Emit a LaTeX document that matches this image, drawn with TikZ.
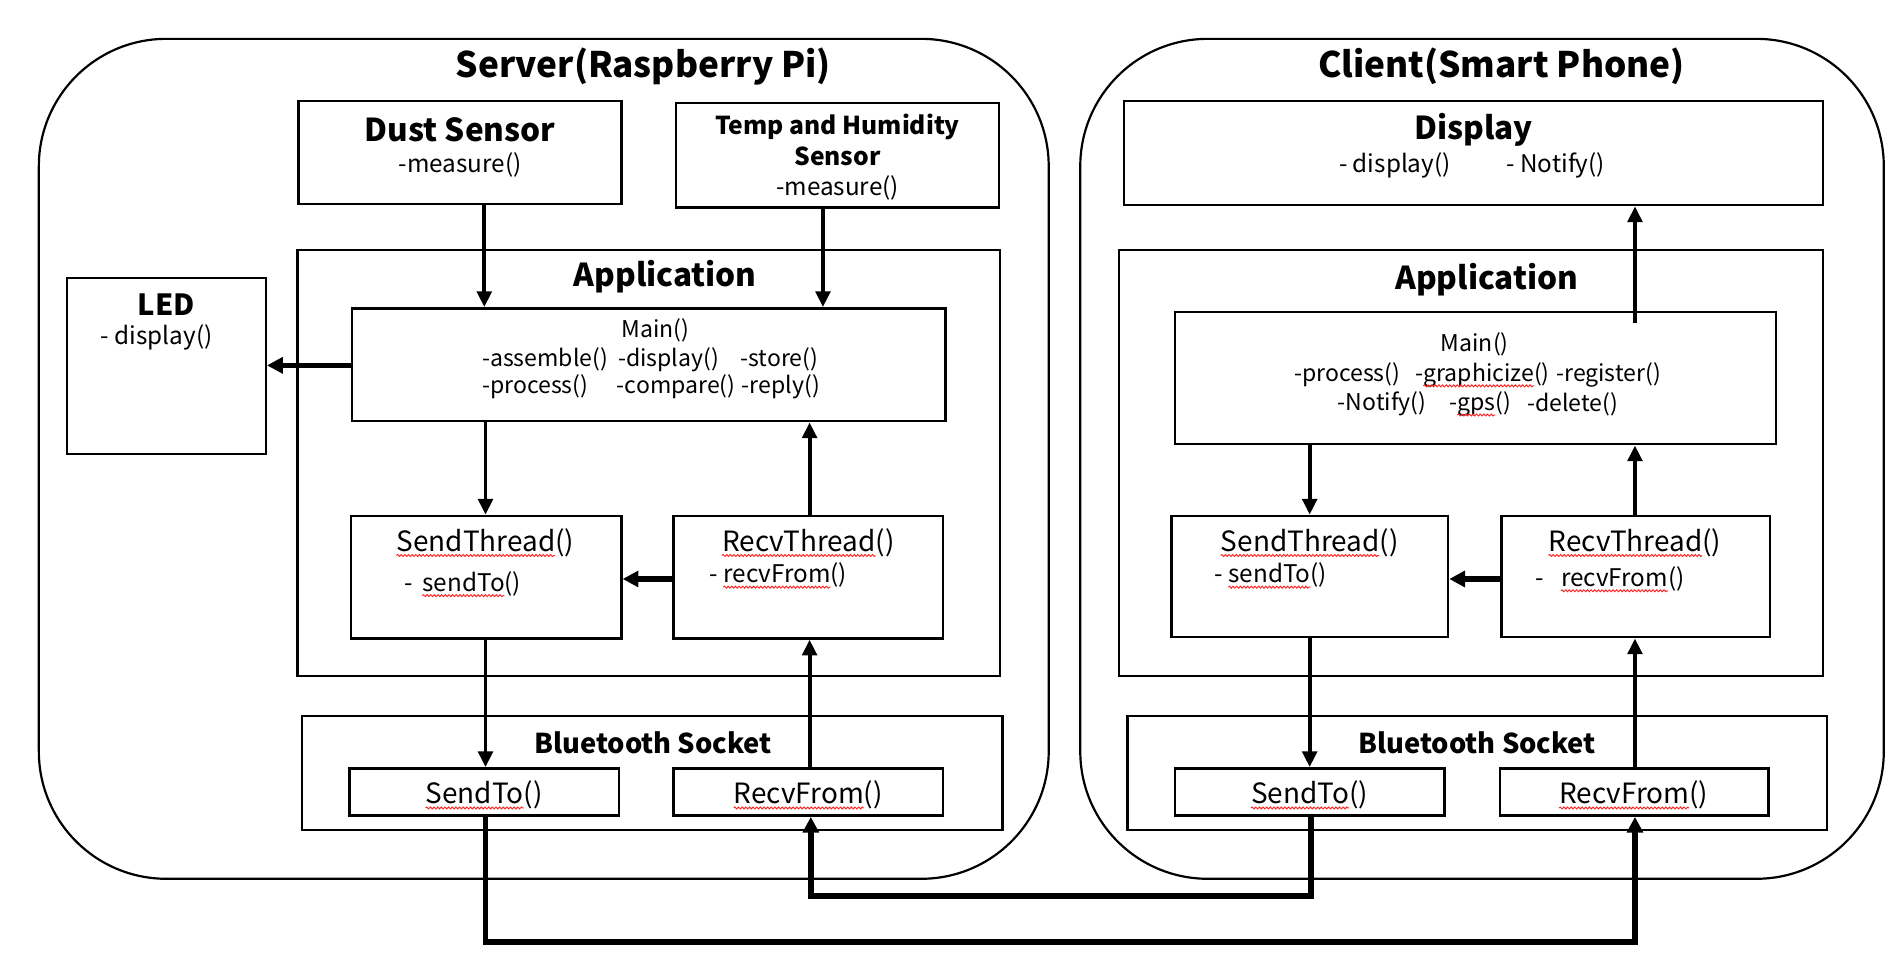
\documentclass[tikz,border=0pt]{standalone}
\usepackage{fontspec}
\setmainfont{Noto Sans CJK KR}
\usetikzlibrary{arrows.meta,decorations.pathmorphing}
\newcommand\fbig{\fontsize{23}{27}\selectfont}
\newcommand\ftxt{\fontsize{20}{24}\selectfont}
\newcommand\fm{\fontsize{19}{22}\selectfont}
% #1 name, #2 font, #3 prefix, #4 wavy word, #5 suffix, #6 position, #7 anchor
\newcommand\wvline[7]{%
  \node[inner sep=0pt,font=#2,anchor=#7] (#1) at (#6) {#3#4#5};
  \pgfinterruptpicture\global\setbox1=\hbox{#2#3}\global\setbox2=\hbox{#2#3#4}\endpgfinterruptpicture
  \draw[wave] ([xshift=\wd1,yshift=-3.5pt]#1.base west) -- ([xshift=\wd2,yshift=-3.5pt]#1.base west);}
\newcommand\mybox[6][]{%
  \node[boxst,#1,minimum width={(#5-#3)*1pt},minimum height={(#6-#4)*1pt}] (#2) at ({(#3+#5)/2},{(#4+#6)/2}) {};}
\tikzset{
  boxst/.style={draw,line width=2pt,inner sep=0pt,rectangle},
  outer/.style={draw,line width=1.8pt,rounded corners=105pt,inner sep=0pt},
  arr/.style={line width=3.2pt,-{Triangle[length=13pt,width=12pt]}},
  tarr/.style={line width=4.5pt,-{Triangle[length=13pt,width=13pt]}},
  wave/.style={draw=red!85!white,line width=0.8pt,decorate,decoration={snake,amplitude=0.8pt,segment length=3pt}},
  ttl/.style={font=\fontsize{29}{32}\selectfont\bfseries,inner sep=0pt},
  hd/.style={font=\fontsize{26}{30}\selectfont\bfseries,inner sep=0pt},
  sub/.style={font=\fontsize{20.3}{24}\selectfont\bfseries,inner sep=0pt},
  bts/.style={font=\fontsize{22.5}{26}\selectfont\bfseries,inner sep=0pt},
  txt/.style={font=\ftxt,inner sep=0pt},
  mtxt/.style={font=\fm,inner sep=0pt},
  big/.style={font=\fbig,inner sep=0pt},
}
\begin{document}
\begin{tikzpicture}[x=1pt,y=-1pt]
\useasboundingbox (0,0) rectangle (1567,804);
% outer containers
\mybox[outer]{server}{32}{32}{864}{724}
\mybox[outer]{client}{890}{32}{1552}{724}
\node[ttl] (servert) at (530,55) {Server(Raspberry Pi)};
\node[ttl] (clientt) at (1237,55) {Client(Smart Phone)};
% ---------- server ----------
\mybox{dust}{246}{83}{512}{168}
\node[hd] (dustt) at (379,107) {Dust Sensor};
\node[txt] (dustm) at (379,136) {-measure()};
\mybox{temp}{557}{85}{823}{171}
\node[sub] (tempt1) at (690,105) {Temp and Humidity};
\node[sub] (tempt2) at (690,129) {Sensor};
\node[txt] (tempm) at (690,155) {-measure()};
\mybox{appS}{245}{206}{824}{557}
\node[hd] (appSt) at (548,228) {Application};
\mybox{mainS}{290}{254}{779}{347}
\node[mtxt] (mainSt) at (540,272) {Main()};
\node[mtxt,anchor=west] (s11) at (397,296) {-assemble()};
\node[mtxt,anchor=west] (s12) at (509,296) {-display()};
\node[mtxt,anchor=west] (s13) at (610,296) {-store()};
\node[mtxt,anchor=west] (s21) at (397,319) {-process()};
\node[mtxt,anchor=west] (s22) at (508,319) {-compare()};
\node[mtxt,anchor=west] (s23) at (611,319) {-reply()};
\mybox{led}{55}{229}{219}{374}
\node[font=\fontsize{24}{28}\selectfont\bfseries,inner sep=0pt] (ledt) at (137,251) {LED};
\node[txt,anchor=west] (ledm) at (83,278) {- display()};
\mybox{sendS}{289}{425}{512}{526}
\wvline{sendSt}{\fbig}{}{SendThread}{()}{400,447}{center}
\wvline{sendSm}{\ftxt}{-\hspace{8pt}}{sendTo}{()}{333,481}{west}
\mybox{recvS}{555}{425}{777}{526}
\wvline{recvSt}{\fbig}{}{RecvThread}{()}{666,447}{center}
\wvline{recvSm}{\ftxt}{-\hspace{5pt}}{recvFrom}{()}{584,474}{west}
\mybox{btS}{249}{590}{826}{684}
\node[bts] (btSt) at (538,612) {Bluetooth Socket};
\mybox{sockSendS}{288}{633}{510}{672}
\wvline{sockSendSt}{\fbig}{}{SendTo}{()}{399,655}{center}
\mybox{sockRecvS}{555}{633}{777}{672}
\wvline{sockRecvSt}{\fbig}{}{RecvFrom}{()}{666,655}{center}
% ---------- client ----------
\mybox{disp}{926}{83}{1502}{169}
\node[hd] (dispt) at (1214,107) {Display};
\node[txt,anchor=west] (dispm1) at (1103,136) {- display()};
\node[txt,anchor=west] (dispm2) at (1241,136) {- Notify()};
\mybox{appC}{922}{206}{1502}{557}
\node[hd] (appCt) at (1225,230) {Application};
\mybox{mainC}{968}{257}{1463}{366}
\node[mtxt] (mainCt) at (1215,284) {Main()};
\node[mtxt,anchor=west] (c11) at (1066,309) {-process()};
\wvline{c12}{\fm}{-}{graphicize}{()}{1166,309}{west}
\node[mtxt,anchor=west] (c13) at (1282,309) {-register()};
\node[mtxt,anchor=west] (c21) at (1102,333) {-Notify()};
\wvline{c22}{\fm}{-}{gps}{()}{1194,333}{west}
\node[mtxt,anchor=west] (c23) at (1258,333) {-delete()};
\mybox{sendC}{965}{425}{1193}{525}
\wvline{sendCt}{\fbig}{}{SendThread}{()}{1079,447}{center}
\wvline{sendCm}{\ftxt}{-\hspace{5pt}}{sendTo}{()}{1000,474}{west}
\mybox{recvC}{1237}{425}{1458}{525}
\wvline{recvCt}{\fbig}{}{RecvThread}{()}{1347,447}{center}
\wvline{recvCm}{\ftxt}{-\hspace{14pt}}{recvFrom}{()}{1265,477}{west}
\mybox{btC}{929}{590}{1505}{684}
\node[bts] (btCt) at (1217,612) {Bluetooth Socket};
\mybox{sockSendC}{968}{633}{1190}{672}
\wvline{sockSendCt}{\fbig}{}{SendTo}{()}{1079,655}{center}
\mybox{sockRecvC}{1236}{633}{1457}{672}
\wvline{sockRecvCt}{\fbig}{}{RecvFrom}{()}{1346,655}{center}
% ---------- connectors: server ----------
\draw[arr] (dust.south -| 399,0) -- (mainS.north -| 399,0);
\draw[arr] (temp.south -| 678,0) -- (mainS.north -| 678,0);
\draw[tarr] (mainS.west |- 0,301) -- (led.east |- 0,301);
\draw[arr] (mainS.south -| 400,0) -- (sendS.north -| 400,0);
\draw[arr] (recvS.north -| 667,0) -- (mainS.south -| 667,0);
\draw[tarr] (recvS.west |- 0,477) -- (sendS.east |- 0,477);
\draw[arr] (sendS.south -| 400,0) -- (sockSendS.north -| 400,0);
\draw[arr] (sockRecvS.north -| 667,0) -- (recvS.south -| 667,0);
% ---------- connectors: client ----------
\draw[arr] ([yshift=-10pt]mainC.north -| 1347,0) -- (disp.south -| 1347,0);
\draw[arr] (mainC.south -| 1079,0) -- (sendC.north -| 1079,0);
\draw[arr] (recvC.north -| 1347,0) -- (mainC.south -| 1347,0);
\draw[tarr] (recvC.west |- 0,477) -- (sendC.east |- 0,477);
\draw[arr] (sendC.south -| 1079,0) -- (sockSendC.north -| 1079,0);
\draw[arr] (sockRecvC.north -| 1347,0) -- (recvC.south -| 1347,0);
% ---------- cross connections ----------
\draw[tarr] (sockSendS.south -| 400,0) -- (400,776) -- (1347,776) -- (sockRecvC.south -| 1347,0);
\draw[tarr] (sockSendC.south -| 1080,0) -- (1080,738) -- (668,738) -- (sockRecvS.south -| 668,0);
\end{tikzpicture}
\end{document}
